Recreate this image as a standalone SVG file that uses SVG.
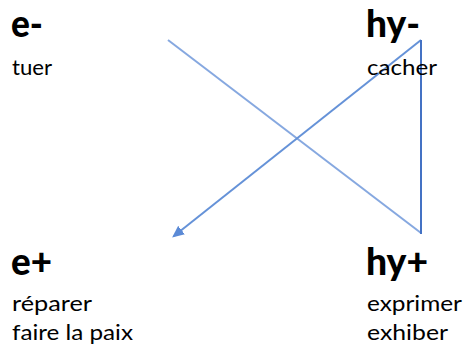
<svg xmlns="http://www.w3.org/2000/svg" width="464" height="349" viewBox="0 0 464 349">
  <style>
    .head { font-family: Lato, "Open Sans", "Liberation Sans", sans-serif; font-weight: 900; font-size: 37px; fill: #000; }
    .word { font-family: Lato, "Open Sans", "Liberation Sans", sans-serif; font-size: 22px; fill: #000; }
    .edge { fill: none; stroke-width: 2; stroke-linecap: butt; }
  </style>
  <defs>
    <marker id="arrow" viewBox="0 0 10 10" refX="8" refY="5" markerWidth="6" markerHeight="6" orient="auto" markerUnits="strokeWidth">
      <path d="M0,0.5 L10,5 L0,9.5 Z" fill="#5B8AD6"/>
    </marker>
  </defs>
  <rect width="464" height="349" fill="#fff"/>

  <g id="connectors">
    <line class="edge" x1="168" y1="40" x2="421" y2="233" stroke="#86A8E0"/>
    <line class="edge" x1="421" y1="40" x2="174" y2="236" stroke="#6592D8" marker-end="url(#arrow)"/>
    <line class="edge" x1="421" y1="40" x2="421" y2="234" stroke="#4472C4" stroke-width="2.5"/>
  </g>

  <g id="e-minus">
    <text class="head" x="11" y="37" textLength="32" lengthAdjust="spacingAndGlyphs">e-</text>
    <text class="word" x="12" y="75" textLength="40" lengthAdjust="spacingAndGlyphs">tuer</text>
  </g>
  <g id="hy-minus">
    <text class="head" x="366" y="37" textLength="54" lengthAdjust="spacingAndGlyphs">hy-</text>
    <text class="word" x="367" y="75" textLength="70" lengthAdjust="spacingAndGlyphs">cacher</text>
  </g>
  <g id="e-plus">
    <text class="head" x="11" y="275" textLength="41" lengthAdjust="spacingAndGlyphs">e+</text>
    <text class="word" x="12" y="311" textLength="80" lengthAdjust="spacingAndGlyphs">réparer</text>
    <text class="word" x="12" y="340" textLength="121" lengthAdjust="spacingAndGlyphs">faire la paix</text>
  </g>
  <g id="hy-plus">
    <text class="head" x="366" y="275" textLength="62" lengthAdjust="spacingAndGlyphs">hy+</text>
    <text class="word" x="367" y="311" textLength="95" lengthAdjust="spacingAndGlyphs">exprimer</text>
    <text class="word" x="367" y="340" textLength="81" lengthAdjust="spacingAndGlyphs">exhiber</text>
  </g>
</svg>
